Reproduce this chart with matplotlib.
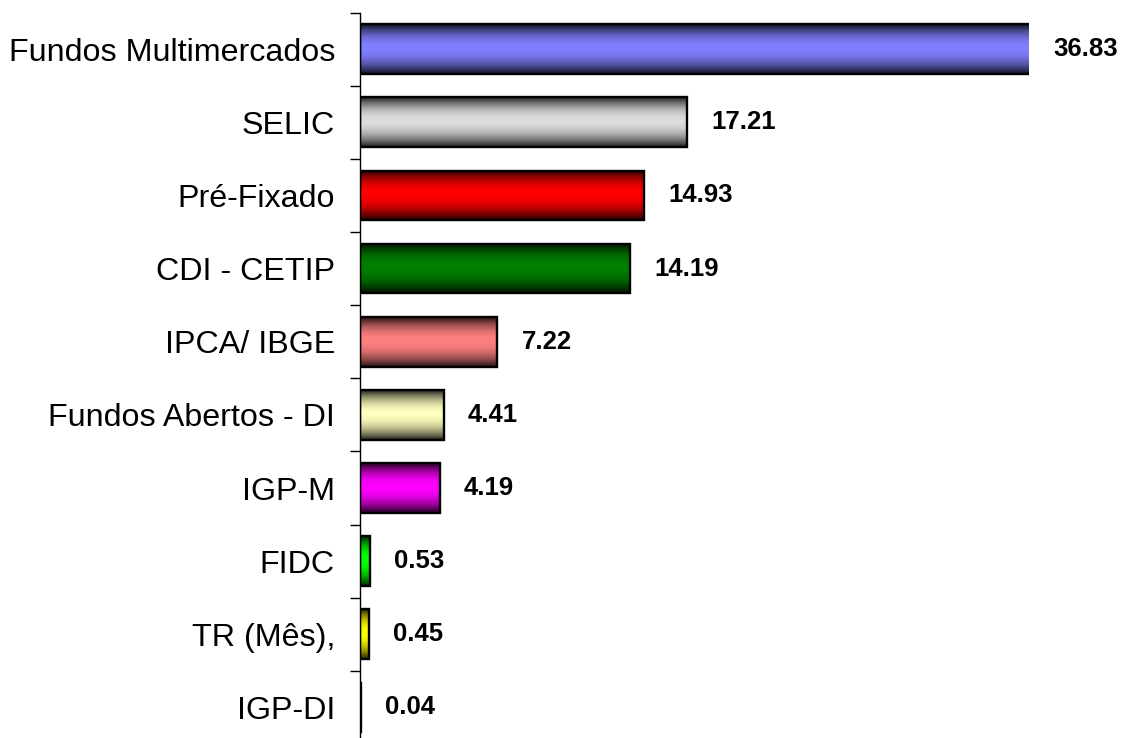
import numpy as np
import matplotlib
matplotlib.use("Agg")
import matplotlib.pyplot as plt
from matplotlib.patches import Rectangle
from matplotlib.ticker import FixedLocator

categories = ["Fundos Multimercados", "SELIC", "Pré-Fixado", "CDI - CETIP", "IPCA/ IBGE",
              "Fundos Abertos - DI", "IGP-M", "FIDC", "TR (Mês),", "IGP-DI"]
values = [36.83, 17.21, 14.93, 14.19, 7.22, 4.41, 4.19, 0.53, 0.45, 0.04]
labels = ["36.83", "17.21", "14.93", "14.19", "7.22", "4.41", "4.19", "0.53", "0.45", "0.04"]
colors = ["#8080FF", "#DDDDDD", "#FF0000", "#008000", "#FF8080",
          "#FFFFC0", "#FF00FF", "#00FF00", "#FFFF00", "#000080"]

plt.rcParams['font.family'] = ['Liberation Sans', 'DejaVu Sans']

W, H = 1121, 738
fig = plt.figure(figsize=(W / 100, H / 100), dpi=100)
ax = fig.add_axes([360 / W, -6 / H, 669 / W, 731.4 / H])

n = len(categories)
xmax = 35.2
ax.set_xlim(0, xmax)
ax.set_ylim(n - 0.5, -0.5)

bar_h = 0.68
t = np.linspace(0, 1, 200)
d = np.where(t < 0.47, (0.47 - t) / 0.47, (t - 0.47) / 0.53)
prof = np.clip(1 - d ** 2.0, 0, 1) * 0.88 + 0.12

for i, (v, c) in enumerate(zip(values, colors)):
    rgb = np.array(matplotlib.colors.to_rgb(c))
    grad = prof[:, None, None] * rgb[None, None, :]
    y0 = i - bar_h / 2
    vd = min(v, xmax)
    rect = Rectangle((0, y0), v, bar_h, facecolor='none', edgecolor='black',
                     linewidth=1.7, zorder=3)
    ax.add_patch(rect)
    clip_rect = Rectangle((0, y0), vd, bar_h, facecolor='none', edgecolor='none',
                          transform=ax.transData)
    im = ax.imshow(grad, extent=(0, vd, i + bar_h / 2, y0), aspect='auto',
                   interpolation='bilinear', zorder=2)
    im.set_clip_path(clip_rect)
    ax.annotate(labels[i], (vd, i), xytext=(17.5, 0), textcoords='offset points',
                ha='left', va='center', fontsize=18.5, fontweight='bold',
                annotation_clip=False)

ax.set_xlim(0, xmax)
ax.set_ylim(n - 0.5, -0.5)

for s in ['top', 'right', 'bottom']:
    ax.spines[s].set_visible(False)
ax.spines['left'].set_linewidth(1.0)
ax.set_xticks([])
ax.set_yticks(range(n))
ax.set_yticklabels(categories, fontsize=23.2)
ax.tick_params(axis='y', which='major', length=0, pad=18)
ax.yaxis.set_minor_locator(FixedLocator(np.arange(-0.5, n, 1.0)))
ax.tick_params(axis='y', which='minor', length=7, width=1.0, direction='out')

fig.savefig("out.png", dpi=100)
